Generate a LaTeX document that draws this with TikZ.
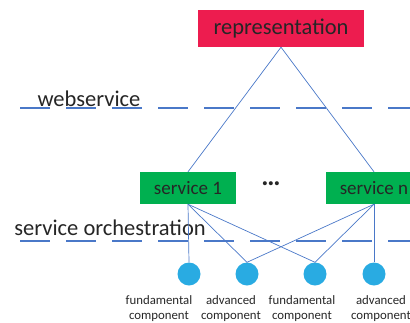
\documentclass[tikz,border=0pt]{standalone}
\usepackage{fontspec}
\setmainfont{Carlito}
\usepackage[HTML]{xcolor}
\usepackage{tikz}
\usetikzlibrary{positioning}
\definecolor{repred}{HTML}{ED1C4F}
\definecolor{servgreen}{HTML}{00B050}
\definecolor{linkblue}{HTML}{4A78C8}
\definecolor{compblue}{HTML}{29ABE2}

\begin{document}
\begin{tikzpicture}[x=1pt, y=-1pt, every node/.style={font=\fontsize{19}{22}\selectfont, text=black!85},
  big/.style={font=\fontsize{22.5}{26}\selectfont},
  servbox/.style={fill=servgreen, minimum width=96pt, minimum height=32pt, inner sep=0pt},
  comp/.style={circle, fill=compblue, minimum size=23pt, inner sep=0pt},
  complabel/.style={align=center, font=\fontsize{12.8}{15}\selectfont},
  layer/.style={linkblue, line width=1.4pt, dash pattern=on 30pt off 16pt},
  link/.style={linkblue, line width=0.7pt}]
\clip (0,0) rectangle (410,322);
\node[fill=repred, minimum width=166pt, minimum height=37pt, inner sep=0pt, big] (rep) at (281,28.5) {representation};
\node[big] (web) at (89,99) {webservice};
\draw[layer] (20,108)--(430,108);
\node[servbox] (s1) at (188,188) {service 1};
\node[font=\fontsize{27}{30}\selectfont\bfseries] (dots) at (271,184) {…};
\node[servbox] (sn) at (374,188) {service n};
\node[big] (orch) at (110,228) {service orchestration};
\draw[layer] (20,241)--(430,241);
\node[comp] (c1) at (189,274) {};
\node[comp] (c2) at (247,274) {};
\node[comp] (c3) at (315,274) {};
\node[comp] (c4) at (374,274) {};
\node[complabel] (l1) at (159,309) {fundamental\\component};
\node[complabel] (l2) at (231,309) {advanced\\component};
\node[complabel] (l3) at (302,309) {fundamental\\component};
\node[complabel] (l4) at (381,309) {advanced\\component};
\draw[link] (rep.south)--(s1.north);
\draw[link] (rep.south)--(sn.north);
\draw[link] (s1.south)--(c1.north);
\draw[link] (s1.south)--(c2.north);
\draw[link] (s1.south)--(c3.north);
\draw[link] (sn.south)--(c2.north);
\draw[link] (sn.south)--(c3.north);
\draw[link] (sn.south)--(c4.north);
\end{tikzpicture}
\end{document}
